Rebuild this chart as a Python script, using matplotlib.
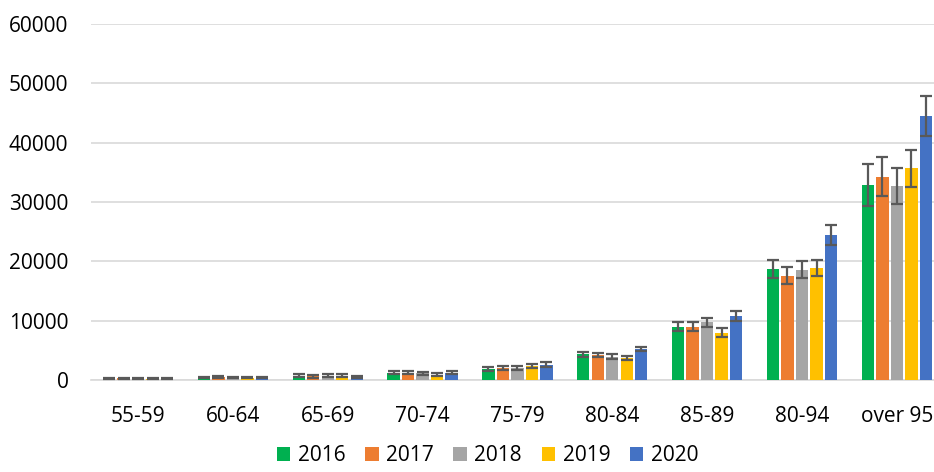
import numpy as np
import matplotlib
matplotlib.use("Agg")
import matplotlib.pyplot as plt

plt.rcParams['font.family'] = ['Open Sans', 'DejaVu Sans']

categories = ['55-59', '60-64', '65-69', '70-74', '75-79', '80-84', '85-89', '80-94', 'over 95']
years = ['2016', '2017', '2018', '2019', '2020']
colors = ['#00b050', '#ed7d31', '#a5a5a5', '#ffc000', '#4472c4']

v2016 = [200, 400, 700, 1200, 1900, 4300, 9000, 18700, 32900]
v2017 = [250, 500, 600, 1200, 2000, 4200, 9000, 17600, 34300]
v2018 = [300, 400, 700, 1100, 2000, 3900, 9700, 18600, 32700]
v2019 = [200, 400, 700, 900, 2400, 3700, 8000, 18900, 35700]
v2020 = [250, 400, 500, 1200, 2600, 5200, 10800, 24500, 44500]

e2016 = [100, 150, 250, 250, 350, 400, 800, 1500, 3500]
e2017 = [100, 150, 250, 250, 350, 400, 800, 1400, 3300]
e2018 = [100, 150, 250, 250, 350, 400, 700, 1400, 3000]
e2019 = [100, 150, 250, 250, 350, 400, 700, 1400, 3100]
e2020 = [100, 150, 250, 250, 350, 400, 900, 1700, 3400]

values = [v2016, v2017, v2018, v2019, v2020]
errors = [e2016, e2017, e2018, e2019, e2020]

fig = plt.figure(figsize=(9.34, 4.72), dpi=100)
ax = fig.add_axes([0.097, 0.195, 0.914, 0.754])

x = np.arange(len(categories))
step = 0.153
width = 0.13
for i in range(5):
    ax.bar(x + (i - 2) * step, values[i], width, color=colors[i], label=years[i],
           yerr=errors[i], capsize=4.5,
           error_kw=dict(ecolor='#595959', elinewidth=1.6, capthick=1.6), zorder=3)

ax.set_ylim(0, 60000)
ax.set_xlim(-0.5, len(categories) - 0.5)
ax.set_yticks(range(0, 60001, 10000))
ax.set_xticks(x)
ax.set_xticklabels(categories)
ax.tick_params(axis='both', length=0, labelsize=15, colors='#000000')
ax.tick_params(axis='x', pad=19)
ax.tick_params(axis='y', pad=16)
ax.grid(axis='y', color='#d9d9d9', linewidth=1.2, zorder=0)
for s in ['top', 'right', 'left']:
    ax.spines[s].set_visible(False)
ax.spines['bottom'].set_color('#d9d9d9')
ax.spines['bottom'].set_linewidth(1.2)

fig.legend(loc='lower center', bbox_to_anchor=(0.522, -0.028), ncol=5, frameon=False,
           fontsize=15, handlelength=0.65, handleheight=0.65, columnspacing=0.95,
           handletextpad=0.35)

fig.savefig('out.png', dpi=100)
